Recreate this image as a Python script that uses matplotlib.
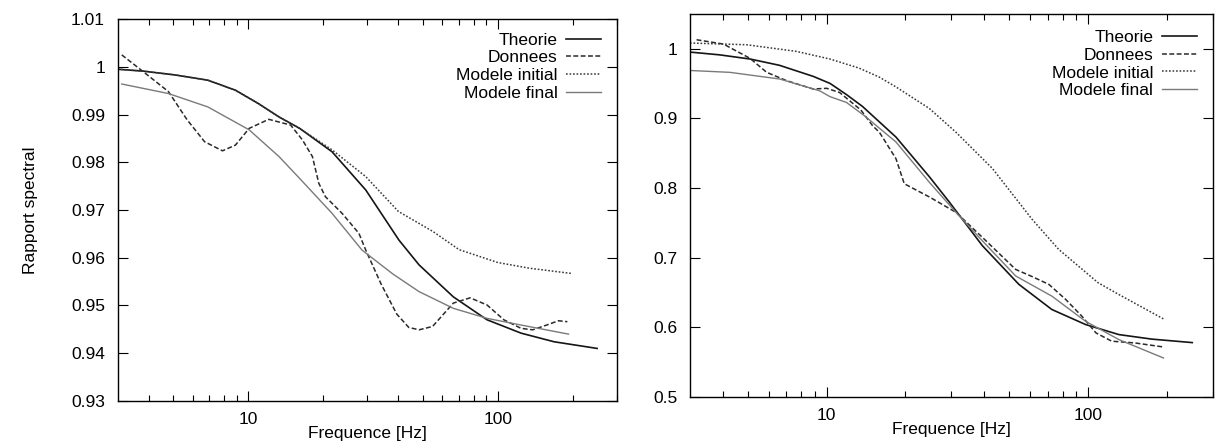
import matplotlib
matplotlib.use('Agg')
import matplotlib.pyplot as plt
from matplotlib.ticker import FixedLocator, FuncFormatter, NullFormatter

plt.rcParams['font.family'] = ['Liberation Sans', 'DejaVu Sans']
plt.rcParams['font.size'] = 12.5

# ---- left panel ----
f_th1 = [3.0, 3.8, 5.1, 6.9, 8.9, 11, 13.3, 16.1, 21.7, 29.6, 40.2, 48.4, 66.4, 90.6, 124, 168, 250]
th1 = [0.9995, 0.9991, 0.9983, 0.9972, 0.9951, 0.9923, 0.9895, 0.9871, 0.9822, 0.9742, 0.9637,
       0.9585, 0.9518, 0.9470, 0.9442, 0.9424, 0.9410]

f_do1 = [3.12, 3.8, 4.8, 5.7, 6.7, 7.9, 8.9, 10.1, 12.1, 14.8, 16.5, 18.1, 19.2, 20.4, 23.8, 27.8,
         29.6, 34.1, 39.4, 44.0, 48.4, 54.8, 66.4, 77.5, 90.6, 105.8, 124, 138, 157, 175, 190]
do1 = [1.0025, 0.9990, 0.9948, 0.9889, 0.9843, 0.9824, 0.9836, 0.9871, 0.9890, 0.9878, 0.9847,
       0.9812, 0.9756, 0.9728, 0.9693, 0.9651, 0.9616, 0.9545, 0.9482, 0.9454, 0.9449, 0.9456,
       0.9505, 0.9516, 0.9501, 0.9470, 0.9452, 0.9449, 0.9459, 0.9468, 0.9466]

f_mi1 = [3.0, 3.8, 5.1, 6.9, 8.9, 11, 13.3, 16.1, 21.7, 29.6, 40, 55, 70, 100, 134, 198]
mi1 = [0.9995, 0.9991, 0.9983, 0.9972, 0.9951, 0.9923, 0.9895, 0.9871, 0.9826, 0.9770, 0.9697,
       0.9655, 0.9617, 0.9590, 0.9578, 0.9567]

f_mf1 = [3.12, 4.8, 6.9, 10.1, 13.3, 16.1, 21.7, 28.6, 38, 48.4, 66.4, 90.6, 124, 192]
mf1 = [0.9964, 0.9944, 0.9916, 0.9868, 0.9812, 0.9766, 0.9693, 0.9616, 0.9566, 0.9529, 0.9494,
       0.9473, 0.9459, 0.9440]

# ---- right panel ----
f_th2 = [3.0, 3.9, 5.1, 6.6, 8.9, 10.3, 11.9, 13.7, 18.4, 24.7, 29.4, 39.4, 54.3, 72.6, 97.6,
         131, 175, 250]
th2 = [0.995, 0.991, 0.985, 0.976, 0.960, 0.950, 0.934, 0.917, 0.873, 0.816, 0.780, 0.717, 0.6616,
       0.6255, 0.604, 0.5895, 0.583, 0.578]

f_do2 = [3.18, 4.03, 5.09, 5.89, 7.02, 8.87, 10, 11.2, 13.5, 15.0, 15.9, 18.4, 19.8, 24.7, 31.2,
         39.4, 52.8, 60, 70.7, 82, 94.5, 107, 123, 151, 194]
do2 = [1.0127, 1.0065, 0.986, 0.966, 0.954, 0.942, 0.943, 0.937, 0.912, 0.889, 0.880, 0.842, 0.806,
       0.787, 0.765, 0.729, 0.683, 0.674, 0.6616, 0.640, 0.616, 0.592, 0.580, 0.5775, 0.5717]

f_mi2 = [3.0, 4.95, 7.66, 10.3, 13.3, 15.9, 18.4, 24.7, 31.2, 43, 61, 77, 109, 131, 194]
mi2 = [1.008, 1.0055, 0.996, 0.985, 0.972, 0.959, 0.945, 0.914, 0.880, 0.828, 0.755, 0.712,
       0.664, 0.647, 0.612]

f_mf2 = [3.0, 4.27, 6.62, 9.4, 10.3, 11.9, 13.9, 18.4, 24.7, 31.2, 39.4, 52.8, 72.6, 97.6, 131, 194]
mf2 = [0.9686, 0.9659, 0.9563, 0.9394, 0.931, 0.9227, 0.904, 0.866, 0.808, 0.765, 0.724, 0.6736,
       0.6447, 0.6087, 0.5823, 0.5559]

labels = ['Theorie', 'Donnees', 'Modele initial', 'Modele final']
yticks1 = [0.93, 0.94, 0.95, 0.96, 0.97, 0.98, 0.99, 1.0, 1.01]
yticks2 = [0.5, 0.6, 0.7, 0.8, 0.9, 1.0]

fig = plt.figure(figsize=(12.24, 4.44), dpi=100)
ax1 = fig.add_axes([0.096, 0.097, 0.408, 0.860])
ax2 = fig.add_axes([0.5637, 0.106, 0.4273, 0.863])


def draw(ax, series, ylim, yticks, leg_anchor):
    styles = [dict(color='#151515', lw=1.2, ls='-'),
              dict(color='#2a2a2a', lw=1.1, ls=(0, (3.2, 1.6))),
              dict(color='#3a3a3a', lw=1.1, ls=(0, (1.1, 1.2))),
              dict(color='#7a7a7a', lw=1.0, ls='-')]
    for (x, y), lab, st in zip(series, labels, styles):
        ax.plot(x, y, label=lab, **st)
    ax.set_xscale('log')
    ax.set_xlim(3, 300)
    ax.set_ylim(*ylim)
    ax.xaxis.set_major_locator(FixedLocator([10, 100]))
    ax.xaxis.set_minor_locator(FixedLocator([4, 5, 6, 7, 8, 9, 20, 30, 40, 50, 60, 70, 80, 90, 200, 300]))
    ax.xaxis.set_major_formatter(FuncFormatter(lambda v, p: '%g' % v))
    ax.xaxis.set_minor_formatter(NullFormatter())
    ax.set_yticks(yticks)
    ax.yaxis.set_major_formatter(FuncFormatter(lambda v, p: '%g' % round(v, 3)))
    ax.tick_params(which='both', direction='in', top=True, right=True, labelsize=12.5)
    ax.tick_params(which='major', length=7, width=0.8)
    ax.tick_params(which='minor', length=4, width=0.8)
    ax.tick_params(axis='y', pad=9)
    ax.tick_params(axis='x', pad=8)
    for s in ax.spines.values():
        s.set_linewidth(1.0)
    ax.set_xlabel('Frequence [Hz]', fontsize=12.5, labelpad=-1)
    ax.legend(loc='upper right', bbox_to_anchor=leg_anchor, frameon=False, markerfirst=False,
              fontsize=12.5, handlelength=2.0, handletextpad=0.5, labelspacing=0.15,
              borderpad=0, borderaxespad=0)


draw(ax1, [(f_th1, th1), (f_do1, do1), (f_mi1, mi1), (f_mf1, mf1)], (0.93, 1.01), yticks1, (0.968, 0.965))
draw(ax2, [(f_th2, th2), (f_do2, do2), (f_mi2, mi2), (f_mf2, mf2)], (0.5, 1.05), yticks2, (0.969, 0.958))
ax1.set_ylabel('Rapport spectral', fontsize=12.5)
ax1.yaxis.set_label_coords(-0.16, 0.5)

plt.savefig('out.png', dpi=100)
